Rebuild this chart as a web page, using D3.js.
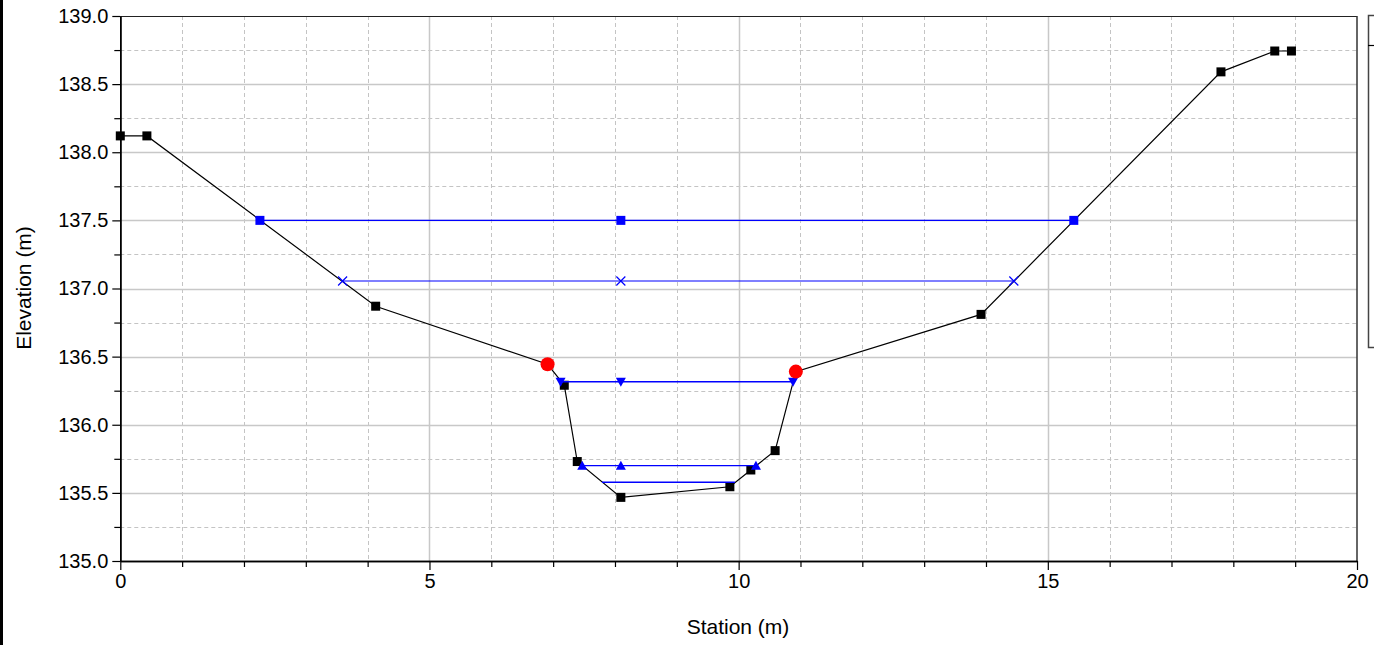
<!DOCTYPE html>
<html>
<head>
<meta charset="utf-8">
<script src="https://cdn.jsdelivr.net/npm/d3@7"></script>
<style>
  html, body { margin: 0; padding: 0; background: #fff; }
  svg { display: block; font-family: "Liberation Sans", Arial, Helvetica, sans-serif; }
</style>
</head>
<body>
<svg id="chart" width="1374" height="645"></svg>
<script>
// ---------- DATA ----------
const groundStation = [0, 0.43, 4.13, 6.91, 7.18, 7.39, 8.095, 9.858, 10.197, 10.59, 10.925, 13.92, 17.80, 18.67, 18.94];
const groundElev    = [138.12, 138.12, 136.87, 136.444, 136.29, 135.73, 135.467, 135.545, 135.668, 135.81, 136.39, 136.81, 138.59, 138.743, 138.743];

const bankStation = [6.91, 10.925];
const bankElev    = [136.444, 136.39];

const wsElev  = [137.50, 137.055, 136.316, 135.70, 135.578];
const wsLeft  = [2.258, 3.595, 7.12, 7.47, 7.79];
const wsRight = [15.42, 14.45, 10.88, 10.28, 9.94];
const wsMid   = 8.095;

const xTicks = [0, 5, 10, 15, 20];
const yTicks = [135.0, 135.5, 136.0, 136.5, 137.0, 137.5, 138.0, 138.5, 139.0];
const xTitle = "Station (m)";
const yTitle = "Elevation (m)";

// ---------- STYLES ----------
const wsMarker = ["square", "cross", "triangleDown", "triangleUp", "none"];
const wsWidth  = [1.4, 1.1, 1.4, 1.4, 1.4];

// ---------- LAYOUT ----------
const W = 1374, H = 645;
const svg = d3.select("#chart");
const x = d3.scaleLinear().domain([0, 20]).range([120.3, 1357]);
const y = d3.scaleLinear().domain([135, 139]).range([561, 16]);

// left black bar
svg.append("rect").attr("x", 0).attr("y", 0).attr("width", 3).attr("height", H).attr("fill", "#000");

// grid
const g = svg.append("g");
const xMinor = d3.range(0, 21, 1).filter(v => v % 5 !== 0);
const yMinor = d3.range(135.25, 139, 0.5);
g.selectAll(".vminor").data(xMinor).join("line")
  .attr("x1", d => Math.round(x(d)) + 0.5).attr("x2", d => Math.round(x(d)) + 0.5)
  .attr("y1", y(139)).attr("y2", y(135))
  .attr("stroke", "#c4c4c4").attr("stroke-width", 1).attr("stroke-dasharray", "4,3");
g.selectAll(".hminor").data(yMinor).join("line")
  .attr("x1", x(0)).attr("x2", x(20))
  .attr("y1", d => Math.round(y(d)) + 0.5).attr("y2", d => Math.round(y(d)) + 0.5)
  .attr("stroke", "#c4c4c4").attr("stroke-width", 1).attr("stroke-dasharray", "4,3");
g.selectAll(".vmajor").data(xTicks.slice(1, -1)).join("line")
  .attr("x1", d => Math.round(x(d)) + 0.5).attr("x2", d => Math.round(x(d)) + 0.5)
  .attr("y1", y(139)).attr("y2", y(135))
  .attr("stroke", "#c8c8c8").attr("stroke-width", 1.5);
g.selectAll(".hmajor").data(yTicks.slice(1, -1)).join("line")
  .attr("x1", x(0)).attr("x2", x(20))
  .attr("y1", d => Math.round(y(d)) + 0.5).attr("y2", d => Math.round(y(d)) + 0.5)
  .attr("stroke", "#c8c8c8").attr("stroke-width", 1.5);

// frame (top & right)
svg.append("line").attr("x1", x(0)).attr("x2", x(20)).attr("y1", 16.5).attr("y2", 16.5).attr("stroke", "#222").attr("stroke-width", 1.2);
svg.append("line").attr("x1", 1357).attr("x2", 1357).attr("y1", 16).attr("y2", 561).attr("stroke", "#333").attr("stroke-width", 1.5);

// axes
const xAxis = d3.axisBottom(x).tickValues(xTicks).tickFormat(d3.format("d")).tickSizeInner(9).tickSizeOuter(0).tickPadding(4);
const xAxisMinor = d3.axisBottom(x).tickValues(xMinor).tickFormat("").tickSizeInner(6).tickSizeOuter(0);
const yAxis = d3.axisLeft(y).tickValues(yTicks).tickFormat(d3.format(".1f")).tickSizeInner(8).tickSizeOuter(0).tickPadding(4);
const yAxisMinor = d3.axisLeft(y).tickValues(yMinor).tickFormat("").tickSizeInner(6).tickSizeOuter(0);

function styleAxis(sel) {
  sel.select(".domain").attr("stroke", "#000").attr("stroke-width", 1.5);
  sel.selectAll(".tick line").attr("stroke", "#000").attr("stroke-width", 1.2);
  sel.selectAll(".tick text").attr("fill", "#000").style("font-size", "20px")
     .style("font-family", "'Liberation Sans', Arial, sans-serif");
}
svg.append("g").attr("transform", "translate(0,561)").call(xAxisMinor).call(styleAxis);
svg.append("g").attr("transform", "translate(0,561)").call(xAxis).call(styleAxis);
svg.append("g").attr("transform", "translate(120.3,0)").call(yAxisMinor).call(styleAxis);
svg.append("g").attr("transform", "translate(120.3,0)").call(yAxis).call(styleAxis);

// titles
svg.append("text").attr("x", 738).attr("y", 634).attr("text-anchor", "middle")
  .style("font-size", "21px").attr("fill", "#000").text(xTitle);
svg.append("text").attr("transform", "translate(31,288) rotate(-90)").attr("text-anchor", "middle")
  .style("font-size", "21px").attr("fill", "#000").text(yTitle);

// ground line
const ground = groundStation.map((s, i) => [s, groundElev[i]]);
const line = d3.line().x(d => x(d[0])).y(d => y(d[1]));
svg.append("path").datum(ground).attr("d", line)
  .attr("fill", "none").attr("stroke", "#000").attr("stroke-width", 1.2);
svg.selectAll(".gpt").data(ground).join("rect")
  .attr("x", d => x(d[0]) - 4.5).attr("y", d => y(d[1]) - 4.5)
  .attr("width", 9).attr("height", 9).attr("fill", "#000");

// water surfaces
const blue = "#0000ff";
wsElev.forEach((e, i) => {
  svg.append("line")
    .attr("x1", x(wsLeft[i])).attr("x2", x(wsRight[i]))
    .attr("y1", y(e)).attr("y2", y(e))
    .attr("stroke", blue).attr("stroke-width", wsWidth[i]);
  const pts = [wsLeft[i], wsMid, wsRight[i]];
  const m = wsMarker[i];
  pts.forEach(s => {
    const cx = x(s), cy = y(e);
    if (m === "square") {
      svg.append("rect").attr("x", cx - 4.5).attr("y", cy - 4.5).attr("width", 9).attr("height", 9).attr("fill", blue);
    } else if (m === "cross") {
      svg.append("path").attr("d", `M${cx-4.5},${cy-4.5}L${cx+4.5},${cy+4.5}M${cx-4.5},${cy+4.5}L${cx+4.5},${cy-4.5}`)
        .attr("stroke", blue).attr("stroke-width", 1.2).attr("fill", "none");
    } else if (m === "triangleDown") {
      svg.append("path").attr("d", `M${cx-5},${cy-4}L${cx+5},${cy-4}L${cx},${cy+5}Z`).attr("fill", blue);
    } else if (m === "triangleUp") {
      svg.append("path").attr("d", `M${cx-5},${cy+4}L${cx+5},${cy+4}L${cx},${cy-5}Z`).attr("fill", blue);
    }
  });
});

// bank stations
svg.selectAll(".bank").data(bankStation.map((s, i) => [s, bankElev[i]])).join("circle")
  .attr("cx", d => x(d[0])).attr("cy", d => y(d[1])).attr("r", 7).attr("fill", "#ff0000");

// legend box (cut off at right edge)
svg.append("rect").attr("x", 1368.5).attr("y", 15.5).attr("width", 30).attr("height", 332)
  .attr("fill", "#fff").attr("stroke", "#444").attr("stroke-width", 1.5);
svg.append("line").attr("x1", 1368).attr("x2", 1374).attr("y1", 45.5).attr("y2", 45.5)
  .attr("stroke", "#000").attr("stroke-width", 1.2);
</script>
</body>
</html>
